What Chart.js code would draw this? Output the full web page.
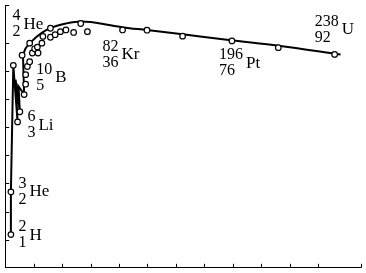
<!DOCTYPE html>
<html>
<head>
<meta charset="utf-8">
<script src="https://cdn.jsdelivr.net/npm/chart.js@4/dist/chart.umd.min.js"></script>
<style>
  html, body { margin: 0; padding: 0; background: #fff; }
  #wrap { width: 366px; height: 273px; }
</style>
</head>
<body>
<div id="wrap"><canvas id="c" width="366" height="273"></canvas></div>
<script>
// ---- Data (x: mass-number axis as drawn, E: binding energy per nucleon, MeV) ----
const markerX = [4.0, 4.0, 5.7, 8.7, 10.3, 13.3, 14.4, 14.4, 15.6, 11.9, 17.2, 17.2, 19.1, 20.7, 22.6, 23.1, 25.8, 26.5, 31.8, 31.8, 35.1, 38.8, 42.7, 48.1, 53.1, 57.8, 82.5, 99.7, 124.7, 159.4, 192.0, 231.6];
const markerE = [1.18, 2.70, 7.20, 5.19, 5.55, 6.16, 6.53, 6.87, 7.16, 7.56, 7.33, 7.99, 7.64, 7.79, 7.85, 7.64, 7.99, 8.23, 8.52, 8.20, 8.29, 8.40, 8.46, 8.37, 8.69, 8.40, 8.46, 8.45, 8.24, 8.07, 7.83, 7.59];

const zigzagX = [4.0, 4.0, 5.7, 8.7, 7.3, 10.3, 9.4, 13.3, 12.5];
const zigzagE = [1.18, 2.70, 7.20, 5.19, 6.69, 5.55, 6.45, 6.17, 7.55];

const curveX = [12.5, 14.2, 17.0, 21.9, 28.8, 35.8, 42.7, 53.1, 60.1, 67.0, 83.0, 99.7, 124.7, 157.3, 192.0, 235.8];
const curveE = [7.55, 7.79, 7.96, 8.21, 8.45, 8.60, 8.69, 8.76, 8.74, 8.69, 8.55, 8.46, 8.31, 8.10, 7.90, 7.59];

const labelSymbols = ['He', 'B', 'Li', 'He', 'H', 'Kr', 'Pt', 'U'];
const labelMass    = ['4', '10', '6', '3', '2', '82', '196', '238'];
const labelZ       = ['2', '5', '3', '2', '1', '36', '76', '92'];

// label anchor points (in data coordinates)
const labelAnchors = [[5.2, 8.67], [21.9, 6.76], [15.6, 5.07], [9.4, 2.70], [9.4, 1.16], [68.4, 7.57], [150.3, 7.28], [217.7, 8.48]];

const toPts = (xs, ys) => xs.map((x, i) => ({ x: x, y: ys[i] }));

const innerTicks = {
  id: 'innerTicks',
  afterDraw(chart) {
    const { ctx, chartArea, scales } = chart;
    const xs = scales.x, ys = scales.y;
    ctx.save();
    ctx.strokeStyle = '#000';
    ctx.lineWidth = 1;
    ctx.beginPath();
    ys.ticks.forEach(t => {
      if (t.value <= 0) return;
      const y = Math.round(ys.getPixelForValue(t.value)) + 0.5;
      ctx.moveTo(chartArea.left, y);
      ctx.lineTo(chartArea.left + 4, y);
    });
    xs.ticks.forEach(t => {
      if (t.value <= 0) return;
      const x = Math.round(xs.getPixelForValue(t.value)) + 0.5;
      ctx.moveTo(x, chartArea.bottom);
      ctx.lineTo(x, chartArea.bottom - 4);
    });
    ctx.stroke();

    // nuclide labels
    ctx.fillStyle = '#000';
    ctx.textBaseline = 'middle';
    ctx.textAlign = 'left';
    labelSymbols.forEach((sym, i) => {
      const px = xs.getPixelForValue(labelAnchors[i][0]);
      const py = ys.getPixelForValue(labelAnchors[i][1]);
      ctx.font = '16px "Liberation Serif", serif';
      ctx.fillText(labelMass[i], px, py - 8);
      ctx.fillText(labelZ[i], px, py + 8);
      const w = Math.max(ctx.measureText(labelMass[i]).width, ctx.measureText(labelZ[i]).width);
      ctx.font = '17px "Liberation Serif", serif';
      ctx.fillText(sym, px + w + 3, py);
    });
    ctx.restore();
  }
};

new Chart(document.getElementById('c'), {
  type: 'scatter',
  data: {
    datasets: [
      {
        data: toPts(markerX, markerE),
        pointRadius: 2.8,
        pointBorderWidth: 1.2,
        pointBackgroundColor: '#fff',
        pointBorderColor: '#000',
        showLine: false,
        order: 0
      },
      {
        data: toPts(zigzagX, zigzagE),
        showLine: true,
        borderColor: '#000',
        borderWidth: 2,
        pointRadius: 0,
        tension: 0,
        order: 1
      },
      {
        data: toPts(curveX, curveE),
        showLine: true,
        borderColor: '#000',
        borderWidth: 2,
        pointRadius: 0,
        cubicInterpolationMode: 'monotone',
        order: 2
      }
    ]
  },
  options: {
    responsive: false,
    animation: false,
    layout: { padding: { left: 3.5, top: 0, right: 3, bottom: 1.7 } },
    plugins: { legend: { display: false }, tooltip: { enabled: false } },
    scales: {
      x: {
        type: 'linear', min: 0, max: 250,
        ticks: { display: false, stepSize: 20 },
        grid: { display: false, drawTicks: false },
        border: { display: true, color: '#000', width: 1 }
      },
      y: {
        type: 'linear', min: 0, max: 9.34,
        ticks: { display: false, stepSize: 1 },
        grid: { display: false, drawTicks: false },
        border: { display: true, color: '#000', width: 1 }
      }
    }
  },
  plugins: [innerTicks]
});
</script>
</body>
</html>
